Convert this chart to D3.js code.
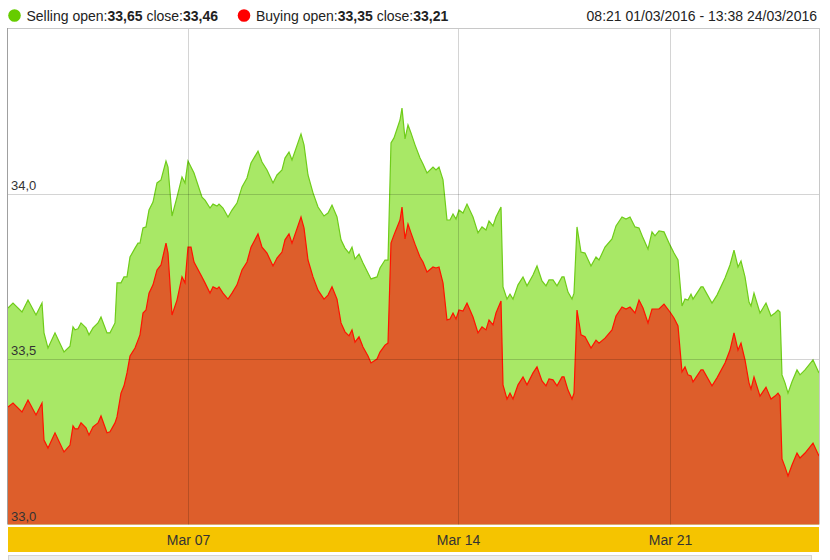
<!DOCTYPE html>
<html><head><meta charset="utf-8">
<script src="https://cdn.jsdelivr.net/npm/d3@7"></script>
<style>
body{margin:0;background:#fff}
svg{display:block;font-family:"Liberation Sans",Arial,sans-serif}
</style>
</head><body><svg id="c" width="830" height="560"></svg>
<script>
// observation number in the price feed (irregular sampling)
const obs = [0,5,14,20,28,34,36,40,47,56,62,65,67,70,73,78,81,85,90,93,99,102,107,109,113,116,119,122,127,130,132,135,138,141,145,149,153,158,160,164,169,174,177,180,183,186,194,197,202,205,209,211,215,220,224,229,234,239,243,250,254,259,265,269,274,277,281,284,293,296,300,305,310,316,320,324,329,333,337,341,344,347,351,355,360,363,369,372,377,380,383,386,392,394,397,400,403,407,412,415,419,425,428,431,435,439,442,445,448,451,455,459,465,470,474,478,481,485,488,493,495,499,502,505,510,515,519,525,529,534,538,541,545,549,554,556,560,564,566,569,573,577,583,588,591,597,604,608,614,618,622,627,631,635,640,644,647,651,656,662,666,670,674,677,680,683,685,693,695,704,709,717,722,726,730,733,737,741,743,746,752,758,763,767,770,772,774,777,780,784,789,792,797,805,811];
const selling = [33.654,33.669,33.642,33.678,33.633,33.669,33.579,33.533,33.579,33.521,33.539,33.597,33.588,33.591,33.609,33.594,33.573,33.594,33.609,33.627,33.579,33.579,33.609,33.730,33.730,33.748,33.748,33.808,33.835,33.850,33.850,33.896,33.899,33.950,33.974,34.032,34.041,34.098,34.080,33.932,33.989,34.050,34.032,34.098,34.080,34.062,33.989,33.980,33.956,33.968,33.962,33.968,33.956,33.929,33.950,33.971,34.020,34.047,34.092,34.128,34.095,34.071,34.032,34.056,34.071,34.107,34.125,34.101,34.180,34.147,34.056,34.002,33.959,33.932,33.941,33.965,33.929,33.860,33.835,33.820,33.838,33.802,33.817,33.790,33.760,33.742,33.748,33.775,33.799,33.799,34.153,34.168,34.222,34.258,34.165,34.207,34.183,34.147,34.107,34.089,34.062,34.080,34.071,34.080,34.041,33.920,33.920,33.938,33.923,33.950,33.941,33.968,33.929,33.881,33.899,33.890,33.917,33.902,33.929,33.959,33.718,33.681,33.696,33.681,33.724,33.748,33.721,33.754,33.781,33.736,33.721,33.739,33.739,33.721,33.748,33.748,33.702,33.681,33.699,33.899,33.823,33.820,33.781,33.808,33.799,33.838,33.863,33.902,33.929,33.923,33.929,33.899,33.896,33.866,33.832,33.884,33.872,33.887,33.884,33.844,33.820,33.799,33.660,33.681,33.678,33.696,33.681,33.718,33.718,33.669,33.693,33.745,33.784,33.829,33.778,33.796,33.748,33.672,33.660,33.699,33.639,33.669,33.630,33.639,33.648,33.642,33.452,33.428,33.397,33.431,33.467,33.452,33.467,33.497,33.458];
const buying = [33.355,33.367,33.340,33.376,33.331,33.367,33.255,33.231,33.277,33.219,33.240,33.298,33.289,33.289,33.307,33.292,33.270,33.295,33.307,33.328,33.277,33.280,33.307,33.325,33.397,33.419,33.458,33.509,33.533,33.557,33.573,33.639,33.648,33.699,33.724,33.769,33.784,33.850,33.820,33.633,33.678,33.748,33.730,33.838,33.838,33.793,33.748,33.730,33.699,33.718,33.712,33.718,33.699,33.681,33.699,33.724,33.769,33.793,33.838,33.878,33.838,33.820,33.781,33.805,33.823,33.860,33.878,33.850,33.929,33.896,33.799,33.748,33.708,33.681,33.693,33.718,33.681,33.609,33.582,33.570,33.588,33.551,33.567,33.536,33.509,33.488,33.500,33.521,33.542,33.548,33.850,33.875,33.920,33.959,33.863,33.908,33.881,33.847,33.808,33.793,33.763,33.778,33.775,33.778,33.730,33.618,33.621,33.639,33.621,33.648,33.645,33.669,33.627,33.579,33.597,33.588,33.618,33.603,33.639,33.675,33.422,33.379,33.397,33.379,33.422,33.446,33.422,33.458,33.476,33.434,33.419,33.440,33.437,33.419,33.446,33.446,33.406,33.379,33.397,33.648,33.573,33.567,33.533,33.557,33.548,33.563,33.588,33.630,33.657,33.651,33.657,33.639,33.678,33.654,33.609,33.651,33.651,33.651,33.666,33.642,33.624,33.600,33.461,33.476,33.452,33.449,33.431,33.467,33.467,33.419,33.443,33.488,33.527,33.579,33.527,33.548,33.497,33.428,33.409,33.446,33.388,33.415,33.379,33.388,33.397,33.388,33.198,33.174,33.147,33.180,33.216,33.201,33.216,33.246,33.207];
const yTicks = [33.0, 33.5, 34.0];
const xTickObs = [180, 450, 662];
const xTickLabels = ["Mar 07", "Mar 14", "Mar 21"];
const legend = [
  {name: "Selling", open: "33,65", close: "33,46", color: "#66cc00"},
  {name: "Buying", open: "33,35", close: "33,21", color: "#ff0000"}
];
const rangeText = "08:21 01/03/2016 - 13:38 24/03/2016";

const svg = d3.select("#c");
const L = 8, R = 819, T = 28, B = 524.5;
const x = d3.scaleLinear().domain([0, 811]).range([L, R]);
const y = d3.scaleLinear().domain([33.0, 34.5]).range([B, T]);

const data = obs.map((o, i) => ({o, s: selling[i], b: buying[i]}));

// plot background
svg.append("rect").attr("x", L).attr("y", T).attr("width", R - L).attr("height", B - T).attr("fill", "#fff");

const areaS = d3.area().x(d => x(d.o)).y0(y(33.0)).y1(d => y(d.s));
const areaB = d3.area().x(d => x(d.o)).y0(y(33.0)).y1(d => y(d.b));
const lineS = d3.line().x(d => x(d.o)).y(d => y(d.s));
const lineB = d3.line().x(d => x(d.o)).y(d => y(d.b));

svg.append("path").datum(data).attr("d", areaS).attr("fill", "#a8e866");
svg.append("path").datum(data).attr("d", lineS).attr("fill", "none").attr("stroke", "#6fcc1a").attr("stroke-width", 1.2);
svg.append("path").datum(data).attr("d", areaB).attr("fill", "#dd5e2b");
svg.append("path").datum(data).attr("d", lineB).attr("fill", "none").attr("stroke", "#ff1200").attr("stroke-width", 1.2);

// grid lines (on top, semi-transparent)
const grid = svg.append("g").attr("stroke", "#000").attr("stroke-opacity", 0.17).attr("stroke-width", 1);
yTicks.filter(v => v > 33.0).forEach(v => {
  const yy = Math.round(y(v)) + 0.5;
  grid.append("line").attr("x1", L).attr("x2", R).attr("y1", yy).attr("y2", yy);
});
xTickObs.forEach(t => {
  const xx = Math.round(x(t)) + 0.5;
  grid.append("line").attr("x1", xx).attr("x2", xx).attr("y1", T).attr("y2", B);
});

// frame
svg.append("line").attr("x1", L).attr("x2", R + 0.5).attr("y1", T + 0.5).attr("y2", T + 0.5).attr("stroke", "#c8c8c8");
svg.append("line").attr("x1", R + 0.5).attr("x2", R + 0.5).attr("y1", T).attr("y2", B).attr("stroke", "#c8c8c8");
svg.append("line").attr("x1", L - 0.5).attr("x2", L - 0.5).attr("y1", T).attr("y2", B).attr("stroke", "#a0a0a0");

// y axis labels
const yAxis = d3.axisRight(y).tickValues(yTicks).tickSize(0).tickPadding(3)
  .tickFormat(d => d.toFixed(1).replace(".", ","));
const gy = svg.append("g").attr("transform", `translate(${L},0)`).call(yAxis);
gy.select(".domain").remove();
gy.selectAll("text").attr("dy", null).attr("y", -4.5).attr("font-size", 13)
  .attr("font-family", "'Liberation Sans', Arial, sans-serif").attr("fill", "#333");

// x axis band
svg.append("rect").attr("x", L).attr("y", 527).attr("width", R - L).attr("height", 25).attr("fill", "#f5c400");
const xAxis = d3.axisBottom(x).tickValues(xTickObs).tickSize(0).tickPadding(8)
  .tickFormat((d, i) => xTickLabels[i]);
const gx = svg.append("g").attr("transform", "translate(0,527)").call(xAxis);
gx.select(".domain").remove();
gx.selectAll("text").attr("font-size", 14).attr("font-family", "'Liberation Sans', Arial, sans-serif").attr("fill", "#333");

// navigator strip
svg.append("rect").attr("x", L + 0.5).attr("y", 555.5).attr("width", 803).attr("height", 6).attr("fill", "#ececec").attr("stroke", "#d4d4d4");

// legend
const lx = [14.5, 244];
legend.forEach((s, i) => {
  svg.append("circle").attr("cx", lx[i]).attr("cy", 15.5).attr("r", 6.3).attr("fill", s.color);
  const t = svg.append("text").attr("x", lx[i] + 12).attr("y", 21).attr("font-size", 14).attr("fill", "#222");
  t.append("tspan").text(s.name + " open:");
  t.append("tspan").attr("font-weight", "bold").text(s.open);
  t.append("tspan").text(" close:");
  t.append("tspan").attr("font-weight", "bold").text(s.close);
});
svg.append("text").attr("x", 817).attr("y", 21).attr("text-anchor", "end").attr("font-size", 14).attr("fill", "#222").text(rangeText);
</script>
</body></html>
